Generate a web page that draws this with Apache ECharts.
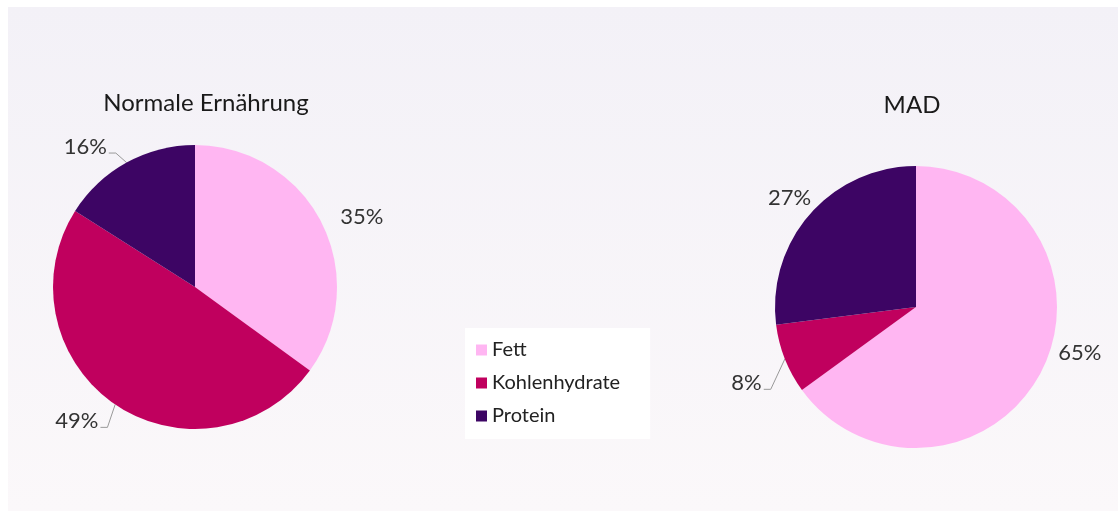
<!DOCTYPE html>
<html>
<head>
<meta charset="utf-8">
<script src="https://cdn.jsdelivr.net/npm/echarts@6/dist/echarts.min.js"></script>
<style>
html,body{margin:0;padding:0;background:#fff;}
#main{width:1118px;height:511px;}
</style>
</head>
<body>
<div id="main"></div>
<script>
const categories = ['Fett', 'Kohlenhydrate', 'Protein'];
const normalValues = [35, 49, 16];
const madValues = [65, 8, 27];
const chartTitles = ['Normale Ernährung', 'MAD'];

const colors = ['#ffb6f2', '#c0005e', '#3d0564'];
const font = 'Lato, "Noto Sans", sans-serif';

// label styling per slice (style only, not data)
const normalLines = [false, true, true];
const madLines = [false, true, false];
const normalLabelShift = [[0, 0], [-2, 7], [-6, -5]];
const madLabelShift = [[-2, -24], [-4, 20], [18, -8]];

function buildData(values, lines) {
  return categories.map((name, i) => ({
    name: name,
    value: values[i],
    labelLine: { show: lines[i] }
  }));
}

function pieSeries(center, radius, values, lines, shifts) {
  return {
    type: 'pie',
    center: center,
    radius: radius,
    startAngle: 90,
    clockwise: true,
    avoidLabelOverlap: false,
    label: {
      show: true,
      position: 'outside',
      formatter: '{d}%',
      fontFamily: font,
      fontSize: 22,
      color: '#333',
      distanceToLabelLine: 2
    },
    labelLine: { show: true, length: 12, length2: 6, lineStyle: { color: '#999', width: 1 } },
    labelLayout: function (p) {
      const s = shifts[p.dataIndex] || [0, 0];
      const r = p.labelRect;
      const res = { dx: s[0], dy: s[1] };
      const pts = p.labelLinePoints;
      if (pts && pts.length) {
        const p0 = pts[0];
        const leftSide = (r.x + r.width / 2) < p0[0];
        const ey = r.y + s[1] + r.height - 5;
        const ex = leftSide ? r.x + s[0] + r.width + 2 : r.x + s[0] - 2;
        let mx = leftSide ? ex + 7 : ex - 7;
        if (Math.abs(p0[0] - ex) < 14) mx = p0[0];
        res.labelLinePoints = [[p0[0], p0[1]], [mx, ey], [ex, ey]];
      }
      return res;
    },
    data: buildData(values, lines)
  };
}

const chart = echarts.init(document.getElementById('main'), null, { renderer: 'canvas' });
const option = {
  animation: false,
  color: colors,
  graphic: [{
    type: 'rect',
    silent: true,
    z: -10,
    shape: { x: 8, y: 7, width: 1110, height: 504 },
    style: {
      fill: new echarts.graphic.LinearGradient(0, 0, 0, 1, [
        { offset: 0, color: '#f3f1f7' },
        { offset: 1, color: '#fbf8fa' }
      ])
    }
  }],
  title: [
    { text: chartTitles[0], left: 201, top: 86, textAlign: 'center',
      textStyle: { fontFamily: font, fontSize: 24, fontWeight: 'normal', color: '#1a1a1a' } },
    { text: chartTitles[1], left: 907, top: 88, textAlign: 'center',
      textStyle: { fontFamily: font, fontSize: 24, fontWeight: 'normal', color: '#1a1a1a' } }
  ],
  legend: {
    data: categories,
    orient: 'vertical',
    left: 465,
    top: 328,
    backgroundColor: '#ffffff',
    padding: [12, 30, 13, 11],
    itemGap: 13,
    itemWidth: 11,
    itemHeight: 11,
    icon: 'rect',
    textStyle: { fontFamily: font, fontSize: 20, color: '#222' }
  },
  series: [
    pieSeries([195, 287], 142, normalValues, normalLines, normalLabelShift),
    pieSeries([916, 307], 141, madValues, madLines, madLabelShift)
  ]
};
chart.setOption(option);
</script>
</body>
</html>
